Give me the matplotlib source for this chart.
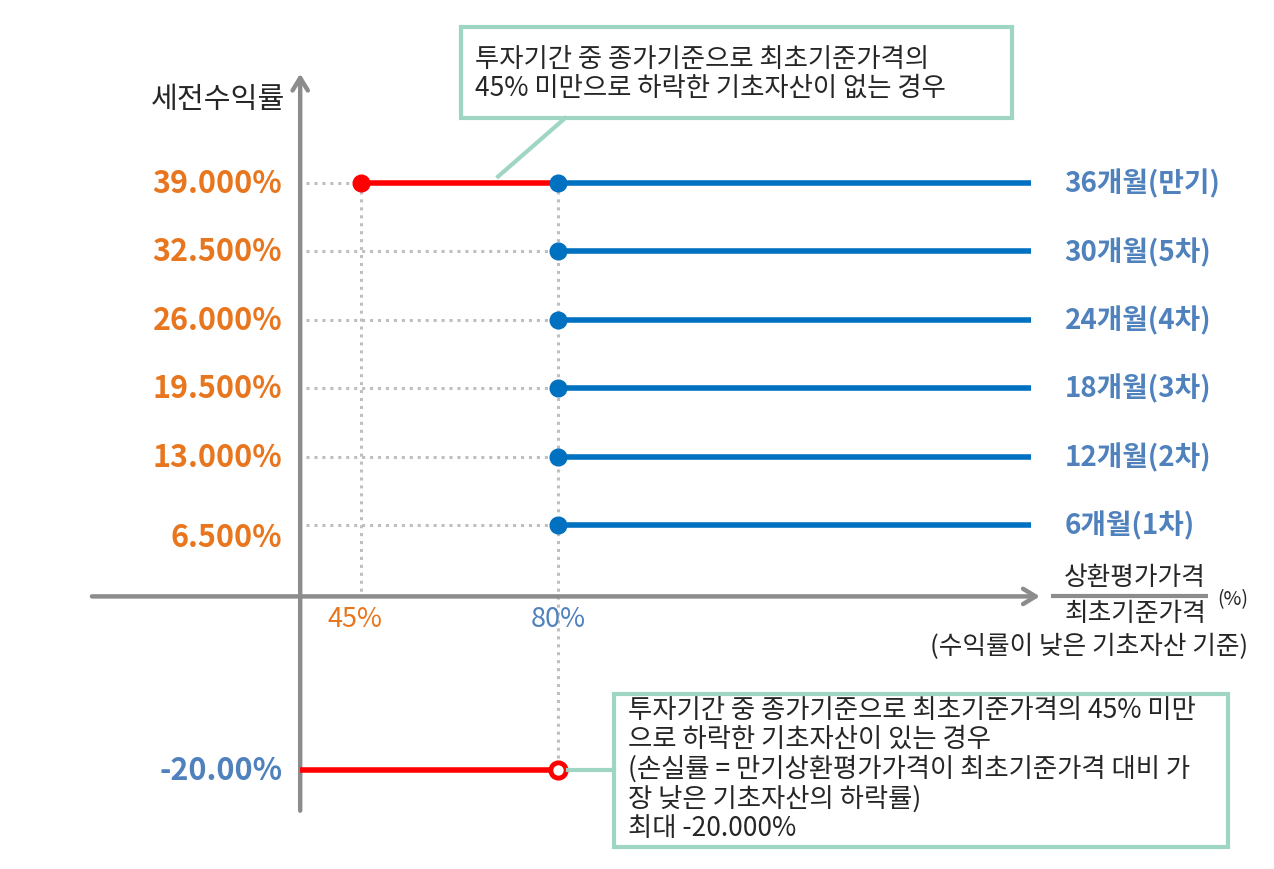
import numpy as np
import matplotlib.pyplot as plt
from matplotlib.patches import Rectangle
from matplotlib.lines import Line2D

plt.rcParams['font.family'] = ['Noto Sans CJK KR', 'DejaVu Sans']

# ── 데이터 ────────────────────────────────────────────
LEVELS = [39.0, 32.5, 26.0, 19.5, 13.0, 6.5]
LEVEL_LABELS = ["39.000%", "32.500%", "26.000%", "19.500%", "13.000%", "6.500%"]
PERIOD_LABELS = ["36개월(만기)", "30개월(5차)", "24개월(4차)",
                 "18개월(3차)", "12개월(2차)", "6개월(1차)"]
KNOCK_IN = 45          # 낙인 배리어 (%)
STRIKE = 80            # 상환 배리어 (%)
LOSS = -20.0           # 최대 손실률 (%)
LOSS_LABEL = "-20.00%"
X_END = 164            # 수평선 끝
AXIS_X = 34.2          # 세로축 위치 (개략도)

# ── 스타일 ────────────────────────────────────────────
RED = "#FF0000"
BLUE = "#0070C0"
ORANGE = "#E8761E"
LBLUE = "#4F81BD"
GRAY = "#8C8C8C"
DOT = "#BFBFBF"
BOX = "#9FD5C3"
TXT = "#262626"
NEG_SHRINK = 0.84      # 음수 구간 압축


def fwd(y):
    y = np.asarray(y, dtype=float)
    return np.where(y < 0, y * NEG_SHRINK, y)


def inv(y):
    y = np.asarray(y, dtype=float)
    return np.where(y < 0, y / NEG_SHRINK, y)


fig = plt.figure(figsize=(12.74, 8.70), dpi=100)
ax = fig.add_axes([0, 0, 1, 1])
ax.set_yscale('function', functions=(fwd, inv))
ax.set_xlim(-19.13, 207.2)
ax.set_ylim(-31.2, 56.5)
ax.axis('off')

# 축
ax.annotate("", xy=(165.6, -0.35), xytext=(-2.8, -0.35),
            arrowprops=dict(arrowstyle="->,head_length=0.9,head_width=0.55",
                            color=GRAY, lw=3.2, shrinkA=0, shrinkB=0))
ax.annotate("", xy=(AXIS_X, 49.4), xytext=(AXIS_X, -24.6),
            arrowprops=dict(arrowstyle="->,head_length=0.9,head_width=0.55",
                            color=GRAY, lw=3.2, shrinkA=0, shrinkB=0))

# 분수 막대 (x축 제목)
ax.plot([167.5, 195.5], [-0.35, -0.35], color=GRAY, lw=3, zorder=6,
        solid_capstyle='butt')

# 점선 가이드
for i, lv in enumerate(LEVELS):
    x_stop = KNOCK_IN if i == 0 else STRIKE
    ax.plot([AXIS_X + 1, x_stop], [lv, lv], color=DOT, lw=2.2,
            ls=(0, (1, 1.6)), zorder=1)
ax.plot([KNOCK_IN, KNOCK_IN], [LEVELS[0], 0], color=DOT, lw=2.2,
        ls=(0, (1, 1.6)), zorder=1)
ax.plot([STRIKE, STRIKE], [LEVELS[0], LOSS], color=DOT, lw=2.2,
        ls=(0, (1, 1.6)), zorder=1)

# 수익 구간
ax.plot([KNOCK_IN, STRIKE], [LEVELS[0], LEVELS[0]], color=RED, lw=4, zorder=3,
        solid_capstyle='butt')
ax.plot([KNOCK_IN], [LEVELS[0]], 'o', color=RED, ms=12, zorder=4)
for lv, lab in zip(LEVELS, PERIOD_LABELS):
    ax.plot([STRIKE, X_END], [lv, lv], color=BLUE, lw=4, zorder=3,
            solid_capstyle='butt')
    ax.plot([STRIKE], [lv], 'o', color=BLUE, ms=12, zorder=4)
    ax.text(170.0, lv, lab, color=LBLUE, fontsize=20, fontweight='bold',
            va='center', ha='left')

for lv, lab in zip(LEVELS, LEVEL_LABELS):
    y_txt = lv - 1.1 if lv == LEVELS[-1] else lv
    ax.text(31.0, y_txt, lab, color=ORANGE, fontsize=22, fontweight='bold',
            va='center', ha='right')

# 손실 구간
ax.plot([AXIS_X, STRIKE], [LOSS, LOSS], color=RED, lw=4, zorder=3,
        solid_capstyle='butt')
ax.plot([STRIKE], [LOSS], 'o', mfc='white', mec=RED, mew=3.5, ms=11, zorder=4)
ax.text(31.0, LOSS, LOSS_LABEL, color=LBLUE, fontsize=22, fontweight='bold',
        va='center', ha='right')

# x축 눈금
ax.text(KNOCK_IN - 1, -2.9, f"{KNOCK_IN}%", color=ORANGE, fontsize=19.5,
        ha='center', va='center')
ax.text(STRIKE, -2.9, f"{STRIKE}%", color=LBLUE, fontsize=19.5,
        ha='center', va='center')

# 축 제목
fig.text(0.171, 0.885, "세전수익률", color=TXT, fontsize=21,
         ha='center', va='center')
fig.text(0.891, 0.336, "상환평가가격", color=TXT, fontsize=18.5,
         ha='center', va='center')
fig.text(0.891, 0.294, "최초기준가격", color=TXT, fontsize=18.5,
         ha='center', va='center')
fig.text(0.968, 0.311, "(%)", color=TXT, fontsize=14,
         ha='center', va='center')
fig.text(0.855, 0.256, "(수익률이 낮은 기초자산 기준)", color=TXT,
         fontsize=18.5, ha='center', va='center')

# 상단 설명 박스
fig.add_artist(Rectangle((0.362, 0.863), 0.432, 0.105, transform=fig.transFigure,
                         fill=True, fc='white', ec=BOX, lw=3, zorder=2))
fig.add_artist(Line2D([0.4435, 0.391], [0.863, 0.796], color=BOX, lw=3))
fig.text(0.373, 0.915, "투자기간 중 종가기준으로 최초기준가격의\n45% 미만으로 하락한 기초자산이 없는 경우",
         color=TXT, fontsize=19, ha='left', va='center', linespacing=1.12,
         zorder=5)

# 하단 설명 박스
fig.add_artist(Rectangle((0.482, 0.025), 0.482, 0.176, transform=fig.transFigure,
                         fill=True, fc='white', ec=BOX, lw=3, zorder=2))
fig.add_artist(Line2D([0.446, 0.482], [0.1138, 0.1138], color=BOX, lw=3))
fig.text(0.493, 0.116,
         "투자기간 중 종가기준으로 최초기준가격의 45% 미만\n"
         "으로 하락한 기초자산이 있는 경우\n"
         "(손실률 = 만기상환평가가격이 최초기준가격 대비 가\n"
         "장 낮은 기초자산의 하락률)\n"
         "최대 -20.000%",
         color=TXT, fontsize=19, ha='left', va='center', linespacing=1.11,
         zorder=5)

fig.savefig("out.png", dpi=100)
